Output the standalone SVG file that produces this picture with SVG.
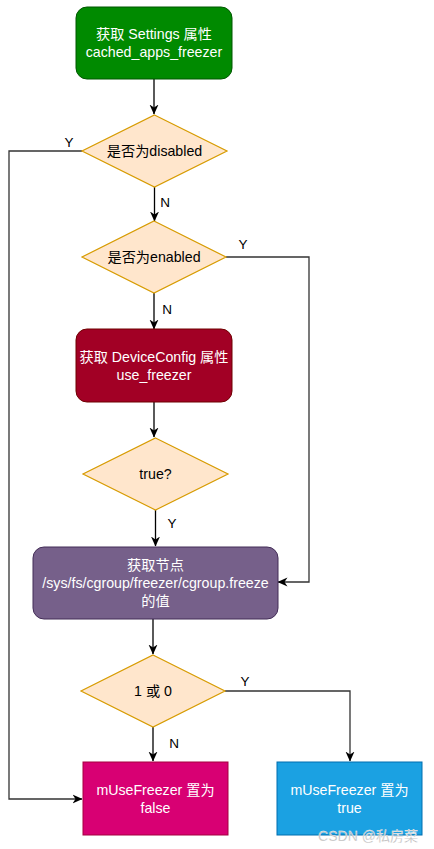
<svg xmlns="http://www.w3.org/2000/svg" width="434" height="849" viewBox="0 0 434 849">
<style>
.t{font-family:"Liberation Sans","Noto Sans CJK SC",sans-serif;font-size:14.2px;text-anchor:middle}
.w{fill:#fff}
.k{fill:#000}
.dia{fill:#ffe6cc;stroke:#d79b00;stroke-width:1.2}
.ln{fill:none;stroke:#000;stroke-width:1.3}
.side{fill:none;stroke:#333;stroke-width:1.3}
.lbl{font-family:"Liberation Sans",sans-serif;font-size:13.5px;fill:#000;text-anchor:middle}
</style>
<defs>
<marker id="ah" viewBox="0 0 10 10" refX="9.5" refY="5" markerWidth="10" markerHeight="10" markerUnits="userSpaceOnUse" orient="auto">
<path d="M0,0.5 L10,5 L0,9.5 L3,5 Z" fill="#000"/>
</marker>
</defs>
<rect width="434" height="849" fill="#fff"/>
<g id="connectors">
<path class="ln" d="M154,79 V114" marker-end="url(#ah)"/>
<path class="ln" d="M154.5,187 V221" marker-end="url(#ah)"/>
<path class="ln" d="M154,293 V329" marker-end="url(#ah)"/>
<path class="ln" d="M154,402 V437" marker-end="url(#ah)"/>
<path class="ln" d="M155.5,510 V546" marker-end="url(#ah)"/>
<path class="ln" d="M153,619 V654" marker-end="url(#ah)"/>
<path class="ln" d="M153,727 V761" marker-end="url(#ah)"/>
<path class="side" d="M82,151 H9 V799 H82" marker-end="url(#ah)"/>
<path class="side" d="M226,257 H309 V582 H278" marker-end="url(#ah)"/>
<path class="side" d="M225,691 H350 V761" marker-end="url(#ah)"/>
<text class="lbl" x="69" y="147">Y</text>
<text class="lbl" x="165" y="207">N</text>
<text class="lbl" x="243" y="249">Y</text>
<text class="lbl" x="167" y="314">N</text>
<text class="lbl" x="172" y="528">Y</text>
<text class="lbl" x="245" y="686">Y</text>
<text class="lbl" x="174" y="748">N</text>
</g>
<g id="n1">
<rect x="76" y="7" width="156" height="72" rx="11" fill="#008a00" stroke="#005700"/>
<text class="t w" x="154" y="39">获取 Settings 属性</text>
<text class="t w" x="154" y="57">cached_apps_freezer</text>
</g>
<g id="n2">
<polygon class="dia" points="154.5,115 227,151 154.5,187 82,151"/>
<text class="t k" x="154.5" y="156">是否为disabled</text>
</g>
<g id="n3">
<polygon class="dia" points="154,221 226,257 154,293 82,257"/>
<text class="t k" x="154" y="262">是否为enabled</text>
</g>
<g id="n4">
<rect x="76" y="329" width="156" height="73" rx="11" fill="#a20025" stroke="#6f0000"/>
<text class="t w" x="154" y="362">获取 DeviceConfig 属性</text>
<text class="t w" x="154" y="380">use_freezer</text>
</g>
<g id="n5">
<polygon class="dia" points="155.5,438 228,474 155.5,510 83,474"/>
<text class="t k" x="155.5" y="479">true?</text>
</g>
<g id="n6">
<rect x="33" y="547" width="245" height="72" rx="11" fill="#76608a" stroke="#432d57"/>
<text class="t w" x="155.5" y="570">获取节点</text>
<text class="t w" x="155.5" y="588">/sys/fs/cgroup/freezer/cgroup.freeze</text>
<text class="t w" x="155.5" y="606">的值</text>
</g>
<g id="n7">
<polygon class="dia" points="153,655 225,691 153,727 81,691"/>
<text class="t k" x="153" y="696">1 或 0</text>
</g>
<g id="n8">
<rect x="83" y="762" width="145" height="73" fill="#d80073" stroke="#a50040"/>
<text class="t w" x="155.5" y="795">mUseFreezer 置为</text>
<text class="t w" x="155.5" y="813">false</text>
</g>
<g id="n9">
<rect x="277" y="762" width="145" height="73" fill="#1ba1e2" stroke="#006eaf"/>
<text class="t w" x="349.5" y="795">mUseFreezer 置为</text>
<text class="t w" x="349.5" y="813">true</text>
</g>
<text x="368" y="841" font-family="'Liberation Sans','Noto Sans CJK SC',sans-serif" font-size="14" fill="#b4b4b4" stroke="#ffffff" stroke-width="0.3" text-anchor="middle">CSDN @私房菜</text>
</svg>
